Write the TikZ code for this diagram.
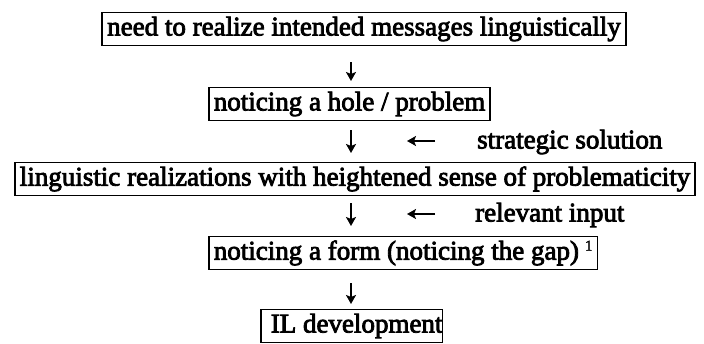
\documentclass[tikz,border=0pt]{standalone}
\usepackage{fontspec}
\setmainfont{Liberation Serif}
\font\reffont="Liberation Serif:embolden=3;mapping=tex-text" at 27pt
\font\supfont="Liberation Serif:embolden=2" at 15pt
\usetikzlibrary{arrows.meta}
\begin{document}
\begin{tikzpicture}[x=1pt,y=-1pt,
  box/.style={draw, line width=1.6pt, inner xsep=5pt, inner ysep=0pt,
    minimum height=33pt, font=\reffont},
  lbl/.style={inner sep=0pt, anchor=west, font=\reffont},
  arr/.style={-{Stealth[length=9pt,width=10pt,inset=2pt]}, line width=2.2pt}]
\useasboundingbox (0,0) rectangle (704,343);
\node[box] (b1) at (364,29) {need to realize intended messages linguistically};
\node[box, anchor=west] (b2) at (208,104) {noticing a hole / problem};
\node[box] (b3) at (355,179) {linguistic realizations with heightened sense of problematicity};
\node[box, anchor=west] (b4) at (208,253) {noticing a form (noticing the gap)\hspace{6pt}\raisebox{9pt}{\supfont 1}};
\node[box, anchor=west, inner xsep=0pt] (b5) at (260,326) {\hspace{10pt}IL development\hspace{5pt}};
\node[lbl] (s) at (477,142) {strategic solution};
\node[lbl] (r) at (475,215) {relevant input};
\coordinate (d1a) at (351,62);  \coordinate (d1b) at (351,81);
\coordinate (d2a) at (351,130); \coordinate (d2b) at (351,153);
\coordinate (d3a) at (351,203); \coordinate (d3b) at (351,226);
\coordinate (d4a) at (351,283); \coordinate (d4b) at (351,304);
\coordinate (l1a) at (435,141); \coordinate (l1b) at (407,141);
\coordinate (l2a) at (435,214); \coordinate (l2b) at (407,214);
\draw[arr] (d1a) -- (d1b);
\draw[arr] (d2a) -- (d2b);
\draw[arr] (d3a) -- (d3b);
\draw[arr] (d4a) -- (d4b);
\draw[arr] (l1a) -- (l1b);
\draw[arr] (l2a) -- (l2b);
\end{tikzpicture}
\end{document}
